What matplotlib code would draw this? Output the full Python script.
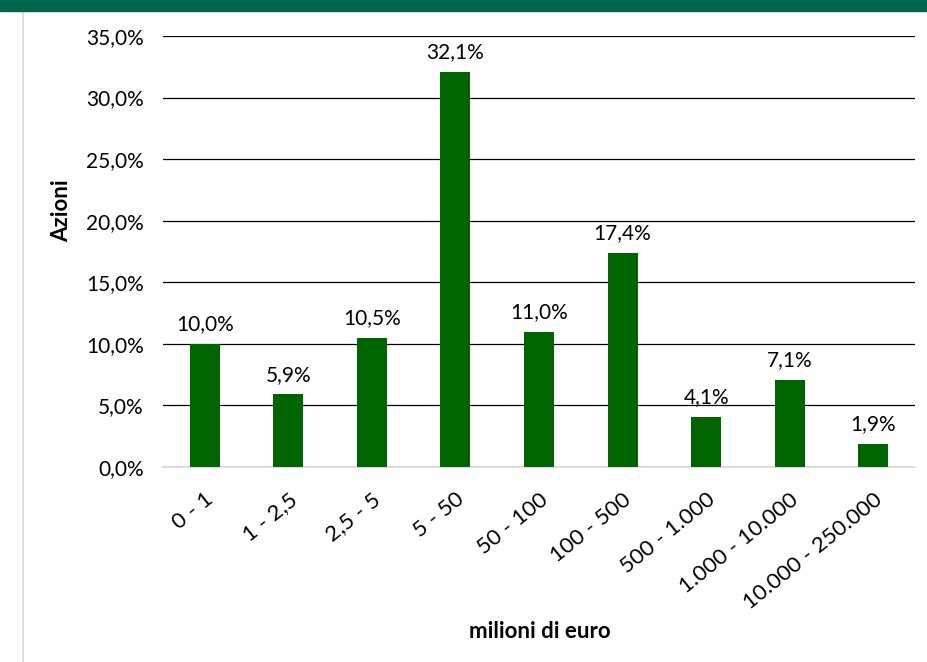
import matplotlib
matplotlib.use("Agg")
from matplotlib import pyplot as plt
from matplotlib.lines import Line2D
from matplotlib.patches import Rectangle

# dati
fasce = ["0 - 1", "1 - 2,5", "2,5 - 5", "5 - 50", "50 - 100", "100 - 500",
         "500 - 1.000", "1.000 - 10.000", "10.000 - 250.000"]
azioni = [10.0, 5.9, 10.5, 32.1, 11.0, 17.4, 4.1, 7.1, 1.9]
tick_y = [0, 5, 10, 15, 20, 25, 30, 35]

plt.rcParams['font.family'] = ['Lato', 'DejaVu Sans']

fig = plt.figure(figsize=(9.27, 6.62), dpi=100)
ax = fig.add_axes([163/927, 1 - 467/662, (915-163)/927, (467-36)/662])

pos = list(range(len(fasce)))
ax.bar(pos, azioni, width=0.36, color="#006400", zorder=3)
for x, v in zip(pos, azioni):
    ax.annotate(f"{v:.1f}%".replace(".", ","), (x, v), xytext=(0, 7),
                textcoords="offset points", ha="center", va="bottom", fontsize=15)

ax.set_xlim(-0.5, len(fasce) - 0.5)
ax.set_ylim(0, 35)
ax.set_yticks(tick_y)
ax.set_yticklabels([f"{t:.1f}%".replace(".", ",") for t in tick_y], fontsize=15)
ax.set_xticks(pos)
ax.set_xticklabels(fasce, rotation=39, ha="right", rotation_mode="anchor", fontsize=16)
ax.tick_params(length=0)
ax.tick_params(axis="y", pad=14)
ax.tick_params(axis="x", pad=16)
ax.grid(axis="y", color="black", linewidth=0.9, zorder=0)
for s in ["top", "right", "left"]:
    ax.spines[s].set_visible(False)
ax.spines["bottom"].set_color("#d9d9d9")
ax.spines["bottom"].set_linewidth(1.2)

fig.text(62/927, 1 - 211/662, "Azioni", rotation=90, ha="center", va="center",
         fontsize=16, fontweight="bold")
fig.text(540/927, 1 - 632/662, "milioni di euro", ha="center", va="center",
         fontsize=16, fontweight="bold")

# banda verde in alto e linea grigia a sinistra
fig.add_artist(Rectangle((0, 1 - 11/662), 1, 11/662, transform=fig.transFigure,
                         color="#00654a", zorder=10))
fig.add_artist(Line2D([23/927, 23/927], [0, 1 - 11/662], transform=fig.transFigure,
                      color="#d9d9d9", linewidth=1.2))

fig.savefig("out.png", dpi=100)
